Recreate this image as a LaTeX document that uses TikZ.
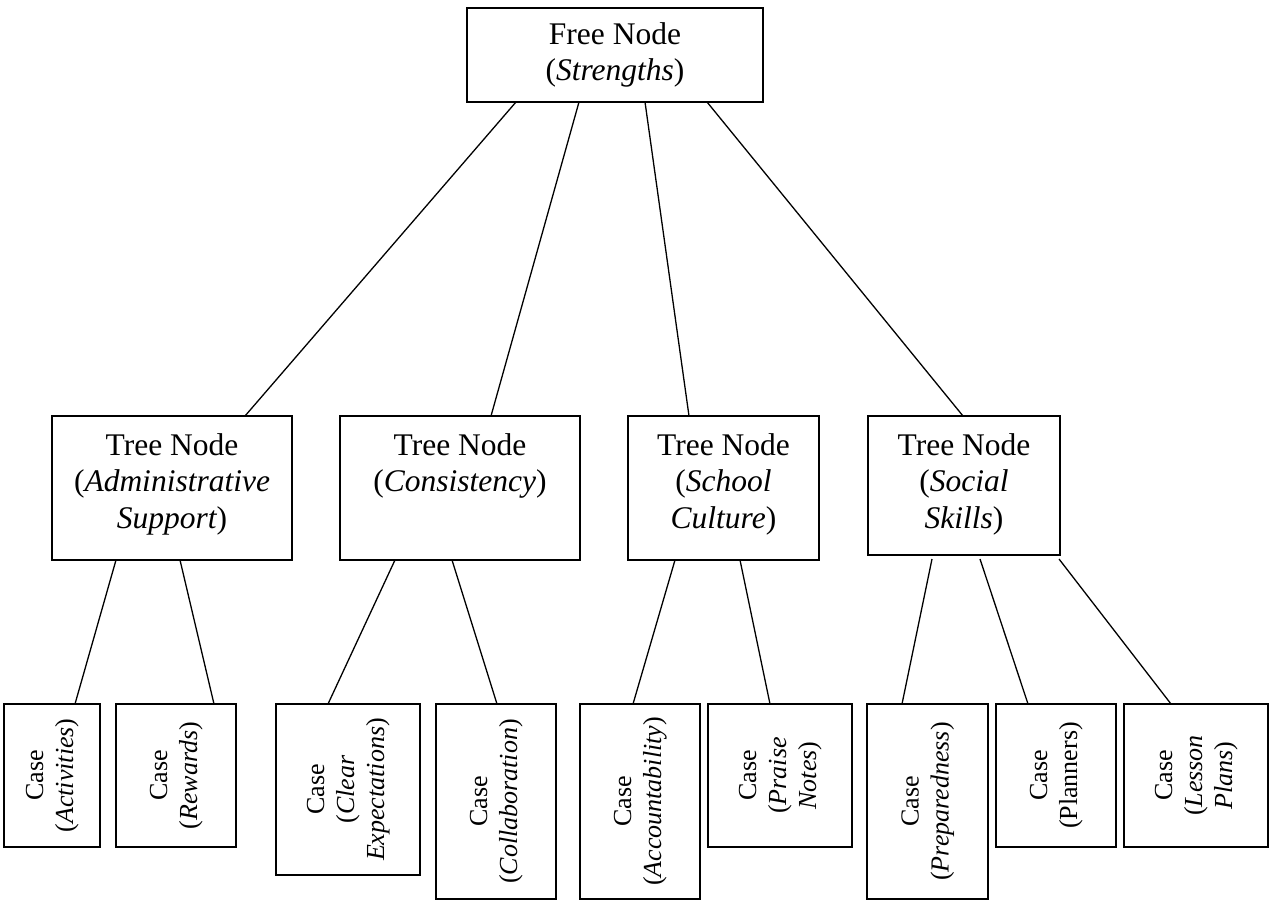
\documentclass[tikz,border=0pt]{standalone}
\usepackage{fontspec}
\setmainfont{Liberation Serif}
\usepackage{graphicx}
\newcommand\tntext[3]{\parbox[c][#2pt][t]{#1pt}{\centering\rule{0pt}{39pt}#3}}
\newcommand\casetext[1]{\rotatebox{90}{\begin{tabular}{@{}c@{}}#1\end{tabular}}}
\begin{document}
\begin{tikzpicture}[x=1pt,y=-1pt,
  box/.style={draw, line width=2pt, inner sep=0pt, outer sep=0pt, anchor=north west},
  bigtext/.style={font=\fontsize{31.5}{36.7}\selectfont},
  casebox/.style={box, font=\fontsize{26}{30}\selectfont},
  conn/.style={line width=1.3pt}]
\useasboundingbox (0,0) rectangle (1273,909);
% free node
\node[box, bigtext, minimum width=296pt, minimum height=94pt, align=center] (fr) at (467,8) {Free Node\\(\textit{Strengths})};
% tree nodes
\node[box, bigtext] (adm) at (52,416) {\tntext{240}{144}{Tree Node\\({\itshape Administrative}\\{\itshape Support})}};
\node[box, bigtext] (con) at (340,416) {\tntext{240}{144}{Tree Node\\({\itshape Consistency})}};
\node[box, bigtext] (sch) at (628,416) {\tntext{191}{144}{Tree Node\\({\itshape School}\\{\itshape Culture})}};
\node[box, bigtext] (soc) at (868,416) {\tntext{192}{139}{Tree Node\\({\itshape Social}\\{\itshape Skills})}};
% cases
\node[casebox, minimum width=96pt, minimum height=143pt] (act) at (4,704) {\casetext{Case\\(\textit{Activities})}};
\node[casebox, minimum width=120pt, minimum height=143pt] (rew) at (116,704) {\casetext{Case\\(\textit{Rewards})}};
\node[casebox, minimum width=144pt, minimum height=171pt] (clr) at (276,704) {\casetext{Case\\(\textit{Clear}\\\textit{Expectations})}};
\node[casebox, minimum width=120pt, minimum height=195pt] (col) at (436,704) {\casetext{Case\\(\textit{Collaboration})}};
\node[casebox, minimum width=120pt, minimum height=195pt] (acc) at (580,704) {\casetext{Case\\(\textit{Accountability})}};
\node[casebox, minimum width=144pt, minimum height=143pt] (pra) at (708,704) {\casetext{Case\\(\textit{Praise}\\\textit{Notes})}};
\node[casebox, minimum width=121pt, minimum height=195pt] (prp) at (867,704) {\casetext{Case\\(\textit{Preparedness})}};
\node[casebox, minimum width=120pt, minimum height=143pt] (pln) at (996,704) {\casetext{Case\\(Planners)}};
\node[casebox, minimum width=144pt, minimum height=143pt] (les) at (1124,704) {\casetext{Case\\(\textit{Lesson}\\\textit{Plans})}};
% connectors free -> tree
\draw[conn] ([xshift=49pt]fr.south west) -- ([xshift=193pt]adm.north west);
\draw[conn] ([xshift=112pt]fr.south west) -- ([xshift=151pt]con.north west);
\draw[conn] ([xshift=178pt]fr.south west) -- ([xshift=61pt]sch.north west);
\draw[conn] ([xshift=240pt]fr.south west) -- ([xshift=95pt]soc.north west);
% connectors tree -> cases
\draw[conn] ([xshift=64pt]adm.south west) -- ([xshift=71pt]act.north west);
\draw[conn] ([xshift=128pt]adm.south west) -- ([xshift=98pt]rew.north west);
\draw[conn] ([xshift=55pt]con.south west) -- ([xshift=52pt]clr.north west);
\draw[conn] ([xshift=112pt]con.south west) -- ([xshift=61pt]col.north west);
\draw[conn] ([xshift=47pt]sch.south west) -- ([xshift=53pt]acc.north west);
\draw[conn] ([xshift=112pt]sch.south west) -- ([xshift=62pt]pra.north west);
\draw[conn] ([xshift=64pt,yshift=-4pt]soc.south west) -- ([xshift=35pt]prp.north west);
\draw[conn] ([xshift=112pt,yshift=-4pt]soc.south west) -- ([xshift=32pt]pln.north west);
\draw[conn] ([xshift=191pt,yshift=-4pt]soc.south west) -- ([xshift=47pt]les.north west);
\end{tikzpicture}
\end{document}
